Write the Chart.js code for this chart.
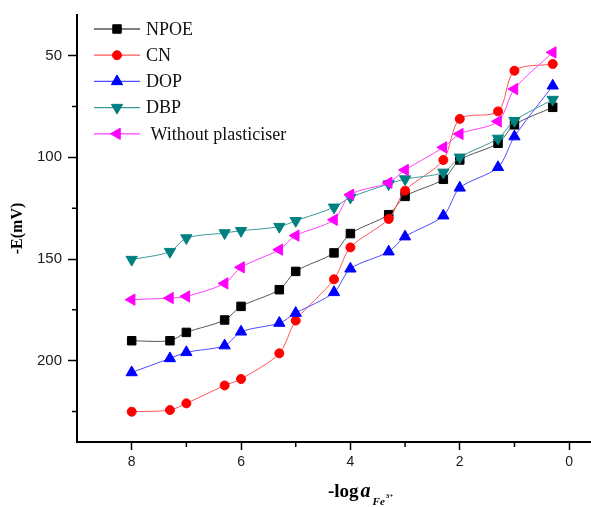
<!DOCTYPE html>
<html lang="en">
<head>
<meta charset="UTF-8">
<title>Fe(III) electrode response</title>
<script src="https://cdn.jsdelivr.net/npm/chart.js"></script>
<style>
  body { margin: 0; background: #fff; }
</style>
</head>
<body>
<canvas id="chart" width="591" height="507"></canvas>
<script>
// -log a(Fe3+) of the standard solutions
const logActivity = [8, 7.3, 7, 6.3, 6, 5.3, 5, 4.3, 4, 3.3, 3, 2.3, 2, 1.3, 1, 0.3];

// -E (mV) for each membrane
const npoe    = [190.2, 190.2, 186.1, 180.0, 173.3, 165.1, 156.1, 147.0, 137.5, 128.2, 119.2, 110.8, 101.3, 93.1, 84.0, 75.4];
const cn      = [225.1, 224.3, 221.0, 212.2, 209.0, 196.4, 180.3, 160.0, 144.3, 130.3, 116.4, 101.3, 81.1, 77.4, 57.4, 54.1];
const dop     = [205.8, 198.9, 195.9, 192.6, 185.8, 181.5, 176.6, 166.4, 154.8, 146.4, 139.0, 128.7, 115.0, 104.9, 89.8, 64.8];
const dbp     = [150.3, 146.4, 139.7, 137.2, 136.1, 134.1, 131.2, 124.6, 119.7, 113.1, 110.7, 107.4, 100.0, 90.7, 82.0, 71.6];
const noPlast = [170.0, 169.2, 168.4, 162.0, 154.1, 145.4, 138.5, 130.7, 118.4, 112.5, 106.2, 95.1, 88.5, 82.3, 66.4, 48.4];

const seriesNames = ['NPOE', 'CN', 'DOP', 'DBP', ' Without plasticiser'];

// axis ticks: labelled ones plus the minor ones in between (x listed left to right)
const xTicks = [8, 7, 6, 5, 4, 3, 2, 1, 0];
const yTicks = [50, 75, 100, 125, 150, 175, 200, 225];

const SERIF = '"Liberation Serif", "Times New Roman", serif';
const SANS = '"Liberation Sans", Arial, sans-serif';

function pts(arr) {
  return logActivity.map((x, i) => ({ x: x, y: arr[i] }));
}

function series(i, values, line, mark, style, rot, r, order) {
  return {
    label: seriesNames[i],
    data: pts(values),
    borderColor: line,
    borderWidth: 1,
    backgroundColor: mark,
    pointBackgroundColor: mark,
    pointBorderColor: mark,
    pointBorderWidth: 1,
    pointStyle: style,
    pointRotation: rot,
    pointRadius: r,
    tension: 0.3,
    clip: false,
    order: order
  };
}

// legend with a short line and the marker on it
const lineLegend = {
  id: 'lineLegend',
  afterDraw(chart) {
    const ctx = chart.ctx;
    chart.data.datasets.forEach((ds, i) => {
      const y = 29 + i * 26.2;
      ctx.save();
      ctx.strokeStyle = ds.borderColor;
      ctx.lineWidth = 1.3;
      ctx.beginPath();
      ctx.moveTo(94, y);
      ctx.lineTo(140, y);
      ctx.stroke();
      ctx.fillStyle = ds.pointBackgroundColor;
      ctx.strokeStyle = ds.pointBorderColor;
      ctx.lineWidth = 1;
      Chart.helpers.drawPoint(ctx, {
        pointStyle: ds.pointStyle,
        rotation: ds.pointRotation,
        radius: ds.pointRadius,
        borderWidth: 1
      }, 117, y);
      ctx.fillStyle = '#111';
      ctx.font = '18px ' + SERIF;
      ctx.textBaseline = 'middle';
      ctx.textAlign = 'left';
      ctx.fillText(ds.label, 146, y + 1);
      ctx.restore();
    });
  }
};

// shorter tick marks for the unlabelled values
const minorTicks = {
  id: 'minorTicks',
  afterDraw(chart) {
    const ctx = chart.ctx;
    const xs = chart.scales.x, ys = chart.scales.y;
    ctx.save();
    ctx.strokeStyle = '#000';
    ctx.lineWidth = 1.5;
    ctx.beginPath();
    xTicks.filter(v => v % 2 !== 0).forEach(v => {
      const px = xs.getPixelForValue(v);
      ctx.moveTo(px, xs.top);
      ctx.lineTo(px, xs.top + 5);
    });
    yTicks.filter(v => v % 50 !== 0).forEach(v => {
      const py = ys.getPixelForValue(v);
      ctx.moveTo(ys.right, py);
      ctx.lineTo(ys.right - 5, py);
    });
    ctx.stroke();
    ctx.restore();
  }
};

// x axis title with italic activity symbol and Fe3+ subscript
const xTitle = {
  id: 'xTitle',
  afterDraw(chart) {
    const ctx = chart.ctx;
    const parts = [
      { t: '-log', font: 'bold 19px ' + SERIF, dy: 0 },
      { t: 'a', font: 'italic bold 20px ' + SERIF, dy: 0, gap: 2 },
      { t: 'Fe', font: 'italic bold 11px ' + SERIF, dy: 8, gap: 2 },
      { t: '3+', font: 'bold 7px ' + SERIF, dy: 1, gap: 1 }
    ];
    let x = 328;
    const base = 497;
    ctx.save();
    ctx.fillStyle = '#000';
    ctx.textBaseline = 'alphabetic';
    ctx.textAlign = 'left';
    parts.forEach(p => {
      ctx.font = p.font;
      x += p.gap || 0;
      ctx.fillText(p.t, x, base + p.dy);
      x += ctx.measureText(p.t).width;
    });
    ctx.restore();
  }
};

new Chart(document.getElementById('chart'), {
  type: 'line',
  data: {
    datasets: [
      series(0, npoe, '#555555', '#000000', 'rect', 0, 6, 4),
      series(1, cn, '#ff5555', '#ff0000', 'circle', 0, 4.5, 3),
      series(2, dop, '#4d4dff', '#0000ff', 'triangle', 0, 6.5, 2),
      series(3, dbp, '#3a9a9a', '#008080', 'triangle', 180, 6.5, 1),
      series(4, noPlast, '#ff40ff', '#ff00ff', 'triangle', -90, 6.5, 0)
    ]
  },
  options: {
    responsive: false,
    animation: false,
    layout: { autoPadding: false, padding: { top: 15, right: 0, left: 0, bottom: 0 } },
    plugins: {
      legend: { display: false },
      tooltip: { enabled: false }
    },
    scales: {
      x: {
        type: 'linear',
        reverse: true,
        min: -0.4,
        max: 9,
        afterBuildTicks: s => { s.ticks = xTicks.map(v => ({ value: v })); },
        afterFit: s => {
          s.height = 65;
          s.paddingLeft = 0;
          s.paddingRight = 0;
        },
        ticks: {
          autoSkip: false,
          maxRotation: 0,
          padding: 4,
          color: '#1a1a1a',
          font: { family: SANS, size: 14 },
          callback: v => (v % 2 === 0 ? String(v) : '')
        },
        grid: {
          drawOnChartArea: false,
          tickLength: 8,
          tickWidth: 1.5,
          tickColor: c => (c.tick && c.tick.value % 2 === 0 ? '#000' : 'rgba(0,0,0,0)')
        },
        border: { color: '#000', width: 2 }
      },
      y: {
        reverse: true,
        min: 30,
        max: 240,
        afterBuildTicks: s => { s.ticks = yTicks.map(v => ({ value: v })); },
        afterFit: s => {
          s.width = 77;
          s.paddingTop = 0;
          s.paddingBottom = 0;
        },
        ticks: {
          autoSkip: false,
          padding: 6,
          color: '#1a1a1a',
          font: { family: SANS, size: 15 },
          callback: v => (v % 50 === 0 ? String(v) : '')
        },
        grid: {
          drawOnChartArea: false,
          tickLength: 9,
          tickWidth: 1.5,
          tickColor: c => (c.tick && c.tick.value % 50 === 0 ? '#000' : 'rgba(0,0,0,0)')
        },
        border: { color: '#000', width: 2 },
        title: {
          display: true,
          text: '-E(mV)',
          color: '#000',
          padding: { top: 8, bottom: 0 },
          font: { family: SERIF, size: 16, weight: 'bold' }
        }
      }
    }
  },
  plugins: [minorTicks, xTitle, lineLegend]
});
</script>
</body>
</html>
